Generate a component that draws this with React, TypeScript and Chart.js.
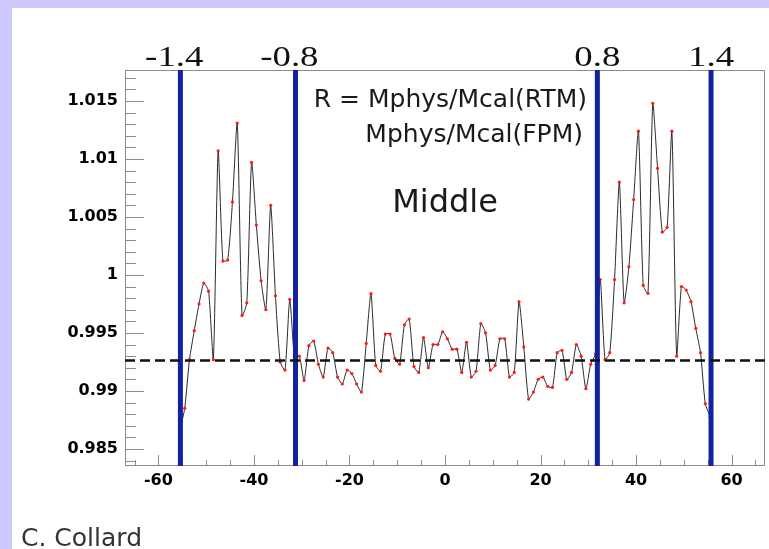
import React, { useEffect, useRef } from "react";
import { Chart, registerables } from "chart.js";

Chart.register(...registerables);

// ---- data ----
const etaIndex = [
  -55.5, -54.5, -53.5, -52.5, -51.5, -50.5, -49.5, -48.5, -47.5, -46.5,
  -45.5, -44.5, -43.5, -42.5, -41.5, -40.5, -39.5, -38.5, -37.5, -36.5,
  -35.5, -34.5, -33.5, -32.5, -31.5, -30.5, -29.5, -28.5, -27.5, -26.5,
  -25.5, -24.5, -23.5, -22.5, -21.5, -20.5, -19.5, -18.5, -17.5, -16.5,
  -15.5, -14.5, -13.5, -12.5, -11.5, -10.5, -9.5, -8.5, -7.5, -6.5,
  -5.5, -4.5, -3.5, -2.5, -1.5, -0.5, 0.5, 1.5, 2.5, 3.5,
  4.5, 5.5, 6.5, 7.5, 8.5, 9.5, 10.5, 11.5, 12.5, 13.5,
  14.5, 15.5, 16.5, 17.5, 18.5, 19.5, 20.5, 21.5, 22.5, 23.5,
  24.5, 25.5, 26.5, 27.5, 28.5, 29.5, 30.5, 31.5, 32.5, 33.5,
  34.5, 35.5, 36.5, 37.5, 38.5, 39.5, 40.5, 41.5, 42.5, 43.5,
  44.5, 45.5, 46.5, 47.5, 48.5, 49.5, 50.5, 51.5, 52.5, 53.5,
  54.5, 55.5,
];

const ratioValues = [
  0.9866, 0.9885, 0.9927, 0.9952, 0.9975, 0.9993, 0.9986, 0.9927, 1.0107, 1.0012,
  1.0013, 1.0063, 1.0131, 0.9965, 0.9976, 1.0097, 1.0043, 0.9995, 0.997, 1.006,
  0.9982, 0.9925, 0.9918, 0.9979, 0.9929, 0.993, 0.9909, 0.9939, 0.9943, 0.9923,
  0.9912, 0.9937, 0.9933, 0.9912, 0.9906, 0.9918, 0.9915, 0.9906, 0.9899, 0.9941,
  0.9984, 0.9922, 0.9917, 0.9949, 0.9949, 0.9928, 0.9923, 0.9957, 0.9962, 0.9921,
  0.9916, 0.9946, 0.992, 0.994, 0.994, 0.9951, 0.9945, 0.9936, 0.9936, 0.9916,
  0.9942, 0.9912, 0.9917, 0.9958, 0.995, 0.9918, 0.9922, 0.9945, 0.9945, 0.9912,
  0.9916, 0.9977, 0.9938, 0.9893, 0.9899, 0.991, 0.9912, 0.9904, 0.9903, 0.9933,
  0.9935, 0.991, 0.9916, 0.994, 0.993, 0.9902, 0.9923, 0.9932, 0.9996, 0.9927,
  0.9933, 0.9996, 1.008, 0.9976, 1.0007, 1.0065, 1.0124, 0.9991, 0.9984, 1.0148,
  1.0092, 1.0037, 1.0041, 1.0124, 0.993, 0.999, 0.9987, 0.9977, 0.9954, 0.9933,
  0.9889, 0.9878,
];

const referenceLevel = 0.99263;
const boundaryPositions = [-55.4, -31.3, 31.9, 55.7];
const boundaryLabels = ["-1.4", "-0.8", "0.8", "1.4"];
const xRange = [-67, 67];
const yRange = [0.98353, 1.01767];
const xTickStep = 20;
const yTickStep = 0.005;
const formulaLine1 = "R = Mphys/Mcal(RTM)";
const formulaLine2 = "Mphys/Mcal(FPM)";
const regionLabel = "Middle";
const authorLabel = "C. Collard";

const W = 769;
const H = 549;

const decorPlugin = {
  id: "decor",
  beforeDraw(chart: any) {
    const ctx = chart.ctx;
    ctx.save();
    ctx.fillStyle = "#cdc9fc";
    ctx.fillRect(0, 0, W, H);
    ctx.fillStyle = "#ffffff";
    ctx.fillRect(12, 8, W - 12, H - 8);
    ctx.restore();
  },
  beforeDatasetsDraw(chart: any) {
    const { ctx, chartArea: a, scales } = chart;
    const x = scales.x;
    const y = scales.y;
    ctx.save();
    ctx.strokeStyle = "#8c8c8c";
    ctx.lineWidth = 1;
    ctx.strokeRect(a.left + 0.5, a.top + 0.5, a.right - a.left - 1, a.bottom - a.top - 1);
    ctx.beginPath();
    const kyStart = Math.ceil(yRange[0] / 0.001 - 1e-6);
    const kyEnd = Math.floor(yRange[1] / 0.001 + 1e-6);
    for (let k = kyStart; k <= kyEnd; k++) {
      const py = Math.round(y.getPixelForValue(k * 0.001)) + 0.5;
      const len = k % 5 === 0 ? 19 : 11;
      ctx.moveTo(a.left, py);
      ctx.lineTo(a.left + len, py);
    }
    const kxStart = Math.ceil(xRange[0] / 5);
    const kxEnd = Math.floor(xRange[1] / 5);
    for (let k = kxStart; k <= kxEnd; k++) {
      const px = Math.round(x.getPixelForValue(k * 5)) + 0.5;
      const len = k % 4 === 0 ? 11 : 6;
      ctx.moveTo(px, a.bottom);
      ctx.lineTo(px, a.bottom - len);
    }
    ctx.stroke();
    ctx.restore();
  },
  afterDraw(chart: any) {
    const { ctx, scales } = chart;
    const x = scales.x;
    ctx.save();
    ctx.fillStyle = "#111";
    ctx.textBaseline = "alphabetic";
    ctx.font = '29px "Liberation Serif"';
    const sx = 1.27;
    boundaryPositions.forEach((b, i) => {
      const label = boundaryLabels[i];
      const px = x.getPixelForValue(b);
      const core = label.replace("-", "");
      const wCore = ctx.measureText(core).width;
      ctx.save();
      ctx.translate(px, 66);
      ctx.scale(sx, 1);
      ctx.textAlign = "right";
      ctx.fillText(label, wCore / 2, 0);
      ctx.restore();
    });
    ctx.fillStyle = "#1a1a1a";
    ctx.font = '25px "DejaVu Sans"';
    ctx.textAlign = "right";
    ctx.fillText(formulaLine1, 587, 107);
    ctx.fillText(formulaLine2, 583, 142);
    ctx.font = '32px "DejaVu Sans"';
    ctx.textAlign = "center";
    ctx.fillText(regionLabel, 445, 212);
    ctx.fillStyle = "#333";
    ctx.font = '25px "DejaVu Sans"';
    ctx.textAlign = "left";
    ctx.fillText(authorLabel, 21, 546);
    ctx.restore();
  },
};

export default function App() {
  const ref = useRef<HTMLCanvasElement | null>(null);

  useEffect(() => {
    if (!ref.current) return;
    const dataPoints = etaIndex.map((v, i) => ({ x: v, y: ratioValues[i] }));
    const boundarySets = boundaryPositions.map((b) => ({
      data: [
        { x: b, y: yRange[0] },
        { x: b, y: yRange[1] },
      ],
      borderColor: "#13239f",
      borderWidth: 5,
      pointRadius: 0,
      tension: 0,
      order: 2,
    }));
    const chart = new Chart(ref.current, {
      type: "line",
      data: {
        datasets: [
          {
            data: dataPoints,
            borderColor: "rgba(20,20,20,0.9)",
            borderWidth: 1,
            pointRadius: 1.6,
            pointBorderWidth: 0,
            pointBackgroundColor: "#ff1a1a",
            tension: 0.2,
            order: 3,
          },
          ...boundarySets,
          {
            data: [
              { x: xRange[0], y: referenceLevel },
              { x: xRange[1], y: referenceLevel },
            ],
            borderColor: "#111",
            borderWidth: 2.5,
            borderDash: [10, 5],
            pointRadius: 0,
            order: 1,
          },
        ],
      } as any,
      options: {
        responsive: false,
        animation: false,
        devicePixelRatio: 1,
        layout: { padding: { left: 0, top: 70, right: 3, bottom: 0 } },
        plugins: {
          legend: { display: false },
          tooltip: { enabled: false },
        },
        scales: {
          x: {
            type: "linear",
            min: xRange[0],
            max: xRange[1],
            grid: { display: false, drawTicks: false },
            border: { display: false },
            ticks: {
              stepSize: xTickStep,
              includeBounds: false,
              autoSkip: false,
              maxRotation: 0,
              padding: 5,
              color: "#000",
              font: { family: "DejaVu Sans", weight: "bold", size: 16 },
              callback: (v: any) => String(Math.round(Number(v))),
            },
            afterFit: (s: any) => {
              s.height = 83;
            },
          },
          y: {
            type: "linear",
            min: yRange[0],
            max: yRange[1],
            grid: { display: false, drawTicks: false },
            border: { display: false },
            ticks: {
              stepSize: yTickStep,
              includeBounds: false,
              autoSkip: false,
              padding: 7,
              color: "#000",
              font: { family: "DejaVu Sans", weight: "bold", size: 16 },
              callback: (v: any) => String(Number(Number(v).toFixed(3))),
            },
            afterFit: (s: any) => {
              s.width = 125;
            },
          },
        },
      } as any,
      plugins: [decorPlugin],
    });
    return () => chart.destroy();
  }, []);

  return (
    <div style={{ position: "absolute", left: 0, top: 0, width: W, height: H }}>
      <canvas ref={ref} width={W} height={H} style={{ display: "block", width: W, height: H }} />
    </div>
  );
}
